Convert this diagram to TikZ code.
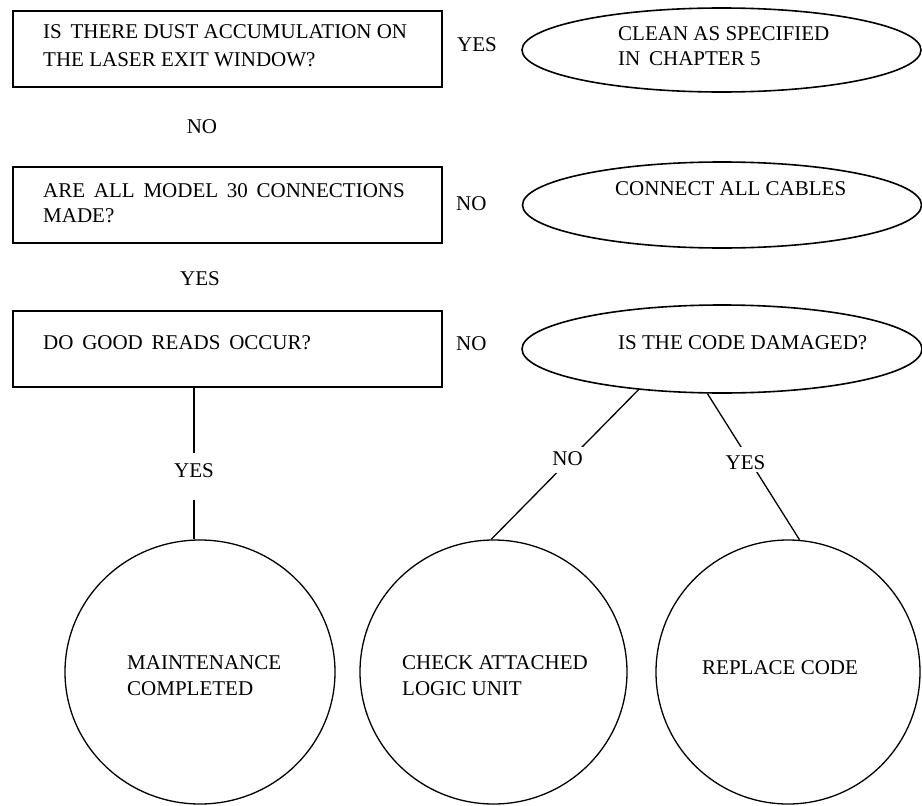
\documentclass[tikz,border=0pt]{standalone}
\usepackage{fontspec}
\setmainfont{Liberation Serif}
\usetikzlibrary{shapes.geometric,backgrounds}
\begin{document}
\begin{tikzpicture}[x=1pt,y=-1pt,
  box/.style={draw, line width=1.8pt, rectangle, minimum width=429pt, minimum height=76pt, inner sep=0pt},
  oval/.style={draw, line width=1.6pt, ellipse, inner sep=0pt},
  endcircle/.style={draw, line width=1.3pt, ellipse, inner sep=0pt},
  txt/.style={anchor=base west, inner sep=0pt, font=\fontsize{21}{25}\selectfont},
  lbl/.style={anchor=base, inner sep=0pt, font=\fontsize{21}{25}\selectfont},
  gaplbl/.style={lbl, fill=white, inner xsep=2pt},
  link/.style={line width=1.3pt}]
\useasboundingbox (0,0) rectangle (922,806);

% question boxes
\node[box] (b1) at (227.5,49) {};
\node[box] (b2) at (227.5,205) {};
\node[box] (b3) at (227.5,349) {};
\node[txt] (b1t1) at (43,38) {IS\, THERE DUST ACCUMULATION ON};
\node[txt] (b1t2) at (43,66) {THE LASER EXIT WINDOW?};
\node[txt] (b2t1) at (43,197) {ARE\, ALL\, MODEL\, 30\, CONNECTIONS};
\node[txt] (b2t2) at (43,222) {MADE?};
\node[txt] (b3t1) at (43,349) {DO\, GOOD\, READS\, OCCUR?};

% action ovals
\node[oval, minimum width=399pt, minimum height=84pt] (e1) at (721.5,50) {};
\node[oval, minimum width=399pt, minimum height=86pt] (e2) at (722,205) {};
\node[oval, minimum width=400pt, minimum height=88pt] (e3) at (722,349) {};
\node[txt] (e1t1) at (618,40) {CLEAN AS SPECIFIED};
\node[txt] (e1t2) at (618,65) {IN\, CHAPTER 5};
\node[txt] (e2t1) at (615,195) {CONNECT ALL CABLES};
\node[txt] (e3t1) at (618,349) {IS THE CODE DAMAGED?};

% answers between boxes and ovals
\node[txt] (a1) at (457,51) {YES};
\node[lbl] (a2) at (202,133) {NO};
\node[txt] (a3) at (456,210) {NO};
\node[lbl] (a4) at (200,285) {YES};
\node[txt] (a5) at (456,350) {NO};

% end circles
\node[endcircle, minimum width=270pt, minimum height=264pt] (c1) at (200,672) {};
\node[endcircle, minimum width=267pt, minimum height=264pt] (c2) at (493.5,672) {};
\node[endcircle, minimum width=264pt, minimum height=264pt] (c3) at (788,672) {};
\node[txt] (c1t1) at (127,669) {MAINTENANCE};
\node[txt] (c1t2) at (127,695) {COMPLETED};
\node[txt] (c2t1) at (402,669) {CHECK ATTACHED};
\node[txt] (c2t2) at (402,695) {LOGIC UNIT};
\node[txt] (c3t1) at (702,674) {REPLACE CODE};

% labels sitting in breaks of the connectors
\node[gaplbl, text height=24pt, text depth=23pt] (l1) at (194,477) {YES};
\node[gaplbl, text height=18pt, text depth=8pt] (l2) at (567.5,465) {NO};
\node[gaplbl, text height=22pt, text depth=3pt] (l3) at (745.5,469) {YES};

% connectors
\begin{pgfonlayer}{background}
\draw[link] (b3.south -| l1.center) -- (c1.north -| l1.center);
\draw[link] (e3.206.3) -- (c2.91.1);
\draw[link] (e3.252.4) -- (c3.85.7);
\end{pgfonlayer}
\end{tikzpicture}
\end{document}
